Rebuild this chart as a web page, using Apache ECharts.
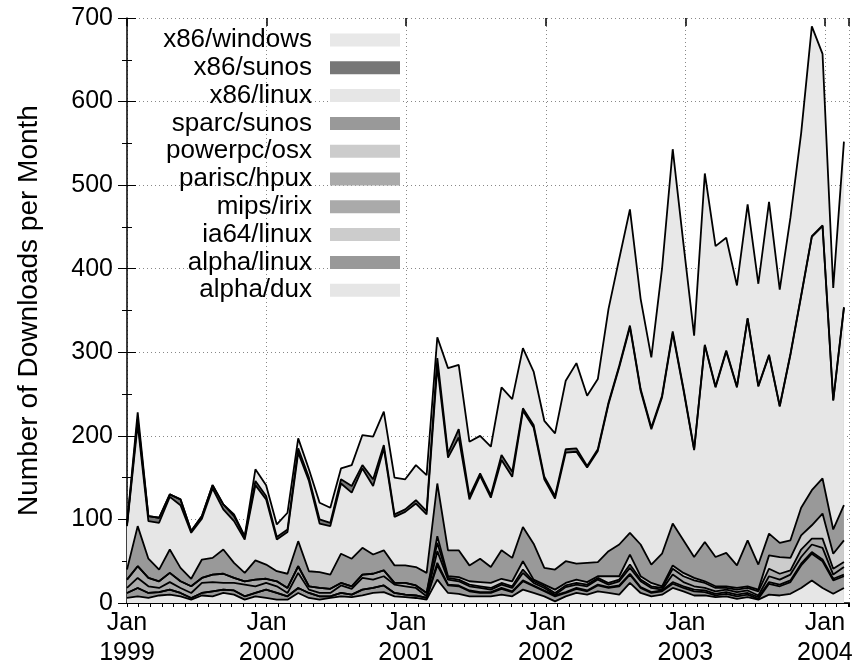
<!DOCTYPE html>
<html>
<head>
<meta charset="utf-8">
<script src="https://cdn.jsdelivr.net/npm/echarts@6/dist/echarts.min.js"></script>
<style>
  html, body { margin: 0; padding: 0; background: #fff; }
  #chart { width: 857px; height: 671px; }
</style>
</head>
<body>
<div id="chart"></div>
<script>
// samples every 4 weeks from Jan 1999; x axis is in months since Jan 1999
const periodDays = 28;
const yearLabels = ['1999', '2000', '2001', '2002', '2003', '2004'];

// bottom of the stack first
const alphaDux = [
  6, 8, 6, 9, 10, 8, 4, 9, 8, 12,
  10, 4, 8, 6, 4, 4, 12, 6, 4, 6,
  8, 7, 9, 12, 13, 8, 7, 6, 4, 28,
  12, 11, 8, 8, 8, 10, 8, 16, 12, 8,
  2, 8, 12, 10, 14, 12, 10, 24, 12, 8,
  10, 18, 14, 9, 9, 7, 8, 5, 7, 4,
  10, 9, 11, 18, 27, 18, 11, 18
];
const alphaLinux = [
  6, 10, 6, 4, 6, 4, 2, 3, 6, 4,
  5, 4, 4, 10, 8, 4, 6, 6, 4, 2,
  4, 3, 7, 6, 8, 4, 3, 3, 2, 17,
  9, 9, 6, 4, 4, 7, 5, 10, 8, 6,
  6, 4, 5, 4, 7, 6, 10, 10, 6, 4,
  4, 5, 4, 5, 4, 2, 3, 3, 3, 1,
  13, 11, 14, 27, 32, 32, 16, 14
];
const ia64Linux = [
  0, 0, 0, 0, 0, 0, 0, 0, 0, 0,
  0, 0, 0, 0, 0, 0, 0, 0, 0, 0,
  0, 0, 0, 0, 0, 0, 0, 0, 0, 3,
  1, 1, 1, 1, 1, 1, 1, 1, 1, 1,
  1, 1, 1, 1, 1, 1, 1, 1, 1, 1,
  1, 2, 2, 2, 2, 2, 2, 2, 2, 2,
  2, 2, 2, 2, 2, 2, 2, 2
];
const mipsIrix = [
  6, 12, 8, 5, 9, 6, 6, 12, 11, 8,
  9, 14, 8, 8, 8, 4, 18, 4, 4, 4,
  9, 7, 14, 10, 11, 10, 10, 9, 2, 14,
  6, 5, 5, 5, 3, 4, 4, 9, 3, 3,
  1, 6, 4, 5, 6, 3, 5, 7, 7, 5,
  1, 9, 5, 4, 3, 3, 3, 3, 3, 2,
  7, 6, 7, 8, 9, 14, 5, 9
];
const pariscHpux = [
  10, 14, 10, 8, 11, 8, 8, 6, 9, 11,
  6, 4, 8, 5, 6, 6, 8, 4, 6, 5,
  3, 3, 4, 7, 7, 2, 4, 3, 4, 10,
  2, 2, 2, 2, 2, 2, 2, 4, 2, 2,
  2, 2, 2, 2, 2, 2, 2, 4, 2, 2,
  2, 7, 7, 7, 6, 4, 2, 3, 3, 5,
  9, 7, 5, 9, 7, 11, 7, 6
];
const powerpcOsx = [
  0, 0, 0, 0, 0, 0, 0, 0, 0, 0,
  0, 0, 0, 0, 0, 0, 0, 0, 0, 0,
  0, 0, 0, 0, 0, 0, 0, 0, 0, 8,
  2, 3, 4, 5, 6, 5, 6, 10, 2, 2,
  4, 3, 4, 3, 2, 8, 4, 12, 4, 4,
  2, 4, 4, 3, 2, 2, 2, 2, 2, 2,
  16, 20, 15, 17, 16, 30, 18, 26
];
const sparcSunos = [
  12, 48, 23, 14, 28, 16, 9, 22, 20, 29,
  18, 10, 23, 17, 12, 17, 30, 18, 19, 17,
  35, 33, 32, 23, 24, 21, 21, 22, 24, 63,
  31, 32, 19, 28, 19, 34, 28, 41, 43, 20,
  24, 26, 19, 23, 17, 30, 38, 26, 38, 22,
  39, 50, 39, 25, 47, 35, 40, 27, 55, 30,
  26, 17, 21, 33, 42, 42, 29, 42
];
const x86Linux = [
  52, 122, 45, 56, 63, 75, 55, 49, 83, 48,
  50, 40, 90, 78, 38, 50, 106, 108, 58, 58,
  84, 79, 95, 82, 122, 58, 64, 76, 70, 140,
  111, 135, 79, 99, 83, 108, 97, 139, 139, 106,
  85, 130, 134, 114, 133, 176, 212, 246, 184, 162,
  187, 228, 180, 128, 235, 203, 241, 213, 265, 213,
  213, 163, 222, 253, 303, 302, 154, 236
];
const x86Sunos = [
  2, 6, 6, 6, 3, 7, 2, 3, 4, 6,
  6, 3, 5, 4, 3, 3, 5, 4, 5, 4,
  5, 8, 4, 8, 4, 3, 3, 4, 4, 10,
  5, 10, 4, 3, 3, 6, 6, 3, 3, 3,
  3, 4, 4, 2, 2, 2, 2, 2, 2, 2,
  2, 2, 2, 1, 1, 1, 1, 1, 1, 1,
  1, 1, 1, 1, 1, 1, 1, 1
];
const x86Windows = [
  0, 8, 0, 0, 0, 0, 0, 0, 0, 0,
  2, 1, 14, 13, 15, 20, 12, 10, 20, 18,
  13, 25, 36, 51, 40, 44, 36, 42, 43, 25,
  102, 77, 65, 45, 58, 81, 87, 72, 64, 67,
  75, 82, 102, 84, 84, 112, 128, 139, 108, 84,
  152, 218, 173, 136, 205, 168, 135, 121, 136, 122,
  183, 139, 163, 194, 251, 205, 134, 198
];

const layers = [
  { name: 'alpha/dux', values: alphaDux, color: '#e6e6e6' },
  { name: 'alpha/linux', values: alphaLinux, color: '#999999' },
  { name: 'ia64/linux', values: ia64Linux, color: '#cccccc' },
  { name: 'mips/irix', values: mipsIrix, color: '#aaaaaa' },
  { name: 'parisc/hpux', values: pariscHpux, color: '#aaaaaa' },
  { name: 'powerpc/osx', values: powerpcOsx, color: '#cccccc' },
  { name: 'sparc/sunos', values: sparcSunos, color: '#999999' },
  { name: 'x86/linux', values: x86Linux, color: '#e6e6e6' },
  { name: 'x86/sunos', values: x86Sunos, color: '#777777' },
  { name: 'x86/windows', values: x86Windows, color: '#e8e8e8' }
];

const monthOf = i => i * periodDays / 30.4375;
const xMax = 62.07;
const font = 'Liberation Sans';

// running totals, so each layer is drawn as a filled band down to zero,
// highest band first and lower ones painted over it
let running = alphaDux.map(() => 0);
const tops = layers.map(l => {
  running = running.map((r, i) => r + l.values[i]);
  return running;
});

const series = layers.map((l, k) => ({
  name: l.name,
  type: 'line',
  symbol: 'none',
  itemStyle: { color: l.color },
  lineStyle: { color: '#000', width: 1.8 },
  areaStyle: { color: l.color, opacity: 1, origin: 'start' },
  emphasis: { disabled: true },
  data: tops[k].map((v, i) => [monthOf(i), v])
})).reverse();

const chart = echarts.init(document.getElementById('chart'));

const option = {
  animation: false,
  backgroundColor: '#ffffff',
  grid: { left: 127, right: 8, top: 18, bottom: 68 },
  legend: {
    data: layers.map(l => l.name).reverse(),
    orient: 'vertical',
    align: 'right',
    right: 457,
    top: 27,
    padding: 0,
    icon: 'rect',
    itemWidth: 70,
    itemHeight: 13,
    itemGap: 1.8,
    selectedMode: false,
    itemStyle: { borderWidth: 0 },
    textStyle: {
      fontFamily: font, fontSize: 26, color: '#000',
      lineHeight: 26, padding: [0, 13, 0, 0]
    }
  },
  xAxis: [
    {
      type: 'value', position: 'bottom', min: 0, max: xMax, interval: 12,
      axisLine: { show: true, lineStyle: { color: '#000', width: 1 } },
      axisTick: { show: false },
      axisLabel: {
        fontFamily: font, fontSize: 25, color: '#000', lineHeight: 30, margin: 5,
        formatter: v => (Math.abs(v % 12) < 1e-6 ? 'Jan\n' + yearLabels[v / 12] : '')
      },
      splitLine: { show: true, lineStyle: { color: '#888', type: [1, 3], width: 1 } }
    },
    {
      type: 'value', position: 'top', min: 0, max: xMax, interval: 1,
      axisLine: { show: true, lineStyle: { color: '#000', width: 1.5 } },
      axisTick: { show: true, inside: true, length: 4, lineStyle: { color: '#000' } },
      axisLabel: { show: false },
      splitLine: { show: false }
    },
    {
      type: 'value', position: 'top', min: 0, max: xMax, interval: 12,
      axisLine: { show: false },
      axisTick: { show: true, inside: true, length: 8, lineStyle: { color: '#000', width: 1.5 } },
      axisLabel: { show: false },
      splitLine: { show: false }
    }
  ],
  yAxis: [
    {
      type: 'value', position: 'left', min: 0, max: 700, interval: 100,
      name: 'Number of Downloads per Month',
      nameLocation: 'middle', nameGap: 84,
      nameTextStyle: { fontFamily: font, fontSize: 28, color: '#000' },
      axisLine: { show: true, lineStyle: { color: '#000', width: 1.5 } },
      axisTick: { show: true, inside: true, length: 9, lineStyle: { color: '#000' } },
      minorTick: { show: true, splitNumber: 2, length: 5, lineStyle: { color: '#000' } },
      axisLabel: { fontFamily: font, fontSize: 25, color: '#000', margin: 14 },
      splitLine: { show: true, lineStyle: { color: '#888', type: [1, 3], width: 1 } }
    },
    {
      type: 'value', position: 'right', min: 0, max: 700, interval: 100,
      axisLine: { show: false },
      axisTick: { show: true, inside: true, length: 9, lineStyle: { color: '#000' } },
      minorTick: { show: true, splitNumber: 2, length: 5, lineStyle: { color: '#000' } },
      axisLabel: { show: false },
      splitLine: { show: false }
    }
  ],
  series: series
};

chart.setOption(option);
</script>
</body>
</html>
